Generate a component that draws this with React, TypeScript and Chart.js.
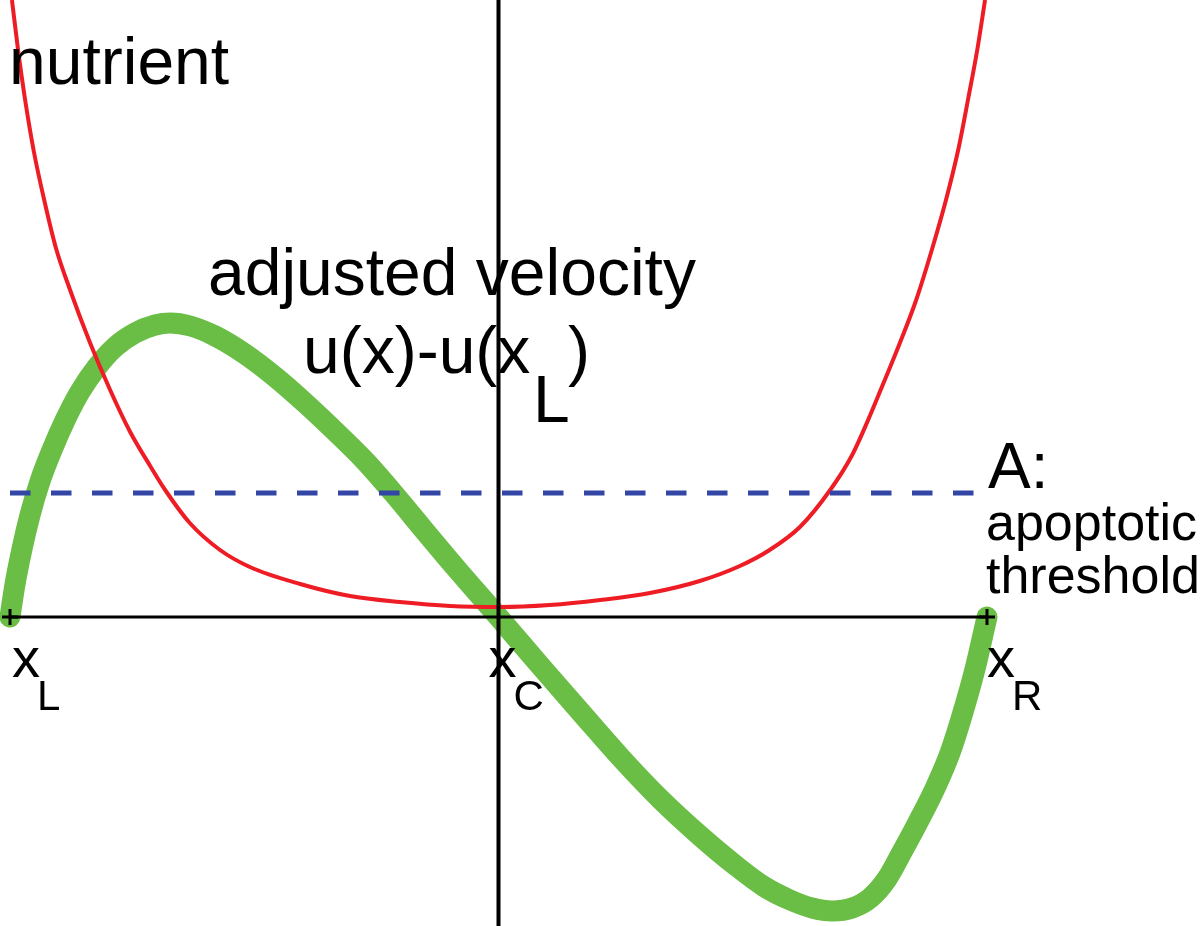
import React, { useEffect, useRef } from 'react';
import { Chart, registerables } from 'chart.js';

Chart.register(...registerables);

// ---- data (x: xL = -1, xC = 0, xR = 1; y: arbitrary units) ----
const xMin = -1;
const xMax = 1;
const yMin = -3.09;
const yMax = 6.17;

const velocityX = [-1.0, -0.99, -0.975, -0.959, -0.939, -0.914, -0.887, -0.857, -0.822, -0.785, -0.744, -0.703, -0.672, -0.631, -0.580, -0.519, -0.457, -0.396, -0.335, -0.273, -0.212, -0.151, -0.089, 0.0, 0.086, 0.168, 0.249, 0.331, 0.413, 0.484, 0.545, 0.597, 0.642, 0.683, 0.724, 0.761, 0.795, 0.826, 0.859, 0.894, 0.925, 0.951, 0.976, 1.0];
const velocityY = [0.0, 0.32, 0.69, 1.02, 1.35, 1.67, 1.97, 2.25, 2.50, 2.70, 2.84, 2.92, 2.94, 2.91, 2.81, 2.63, 2.40, 2.14, 1.86, 1.56, 1.22, 0.86, 0.50, 0.0, -0.49, -0.95, -1.40, -1.82, -2.19, -2.48, -2.70, -2.83, -2.91, -2.94, -2.91, -2.81, -2.62, -2.35, -2.05, -1.71, -1.35, -0.95, -0.51, 0.0];

const nutrientX = [-0.996, -0.984, -0.969, -0.951, -0.930, -0.906, -0.877, -0.836, -0.795, -0.754, -0.713, -0.681, -0.632, -0.570, -0.509, -0.406, -0.304, -0.202, -0.099, 0.003, 0.105, 0.208, 0.310, 0.412, 0.494, 0.555, 0.617, 0.679, 0.724, 0.761, 0.789, 0.820, 0.855, 0.887, 0.916, 0.941, 0.961, 0.980, 0.996];
const nutrientY = [6.17, 5.69, 5.17, 4.65, 4.17, 3.69, 3.27, 2.74, 2.27, 1.85, 1.51, 1.26, 0.94, 0.67, 0.50, 0.33, 0.21, 0.15, 0.11, 0.10, 0.12, 0.17, 0.24, 0.36, 0.51, 0.67, 0.90, 1.27, 1.62, 2.02, 2.35, 2.72, 3.17, 3.67, 4.17, 4.67, 5.17, 5.67, 6.17];

const thresholdLevel = 1.24;
const siteX = [-1, 0, 1];
const siteSubscripts = ['L', 'C', 'R'];

const FONT = '"Liberation Sans", Arial, Helvetica, sans-serif';

const textPlugin = {
  id: 'schematicText',
  afterDatasetsDraw(chart: any) {
    const ctx = chart.ctx as CanvasRenderingContext2D;
    const xs = chart.scales.x;
    const ys = chart.scales.y;
    const y0 = ys.getPixelForValue(0);
    const yThr = ys.getPixelForValue(thresholdLevel);
    ctx.save();
    ctx.fillStyle = '#000000';
    ctx.textBaseline = 'alphabetic';
    ctx.textAlign = 'left';

    ctx.font = `66px ${FONT}`;
    ctx.fillText('nutrient', 9, 84);
    ctx.fillText('adjusted velocity', 208, 295);
    ctx.fillText('u(x)-u(x', 303, 373);
    ctx.fillText('L', 533, 422);
    ctx.fillText(')', 568, 373);

    const rightX = xs.getPixelForValue(xMax);
    ctx.font = `64px ${FONT}`;
    ctx.fillText('A:', rightX + 1, yThr - 5);
    ctx.font = `52px ${FONT}`;
    ctx.fillText('apoptotic', rightX - 1, yThr + 47);
    ctx.fillText('threshold', rightX - 1, yThr + 100);

    siteX.forEach((v, i) => {
      const px = xs.getPixelForValue(v);
      const offs = i === 0 ? 2 : i === 1 ? -10 : 0;
      ctx.font = `56px ${FONT}`;
      ctx.fillText('x', px + offs, y0 + 60);
      ctx.font = `42px ${FONT}`;
      ctx.fillText(siteSubscripts[i], px + offs + 25, y0 + 93);
    });
    ctx.restore();
  },
};

export default function App() {
  const canvasRef = useRef<HTMLCanvasElement | null>(null);

  useEffect(() => {
    if (!canvasRef.current) return;
    const velocity = velocityX.map((x, i) => ({ x, y: velocityY[i] }));
    const nutrient = nutrientX.map((x, i) => ({ x, y: nutrientY[i] }));
    const threshold = [{ x: xMin, y: thresholdLevel }, { x: xMax, y: thresholdLevel }];
    const hAxis = siteX.map((x) => ({ x, y: 0 }));
    const vAxis = [{ x: 0, y: yMin }, { x: 0, y: yMax }];

    const chart = new Chart(canvasRef.current, {
      type: 'line',
      data: {
        datasets: [
          {
            label: 'vertical axis',
            data: vAxis,
            borderColor: '#000000',
            borderWidth: 4,
            pointRadius: 0,
            order: 1,
            clip: false,
          },
          {
            label: 'horizontal axis',
            data: hAxis,
            borderColor: '#000000',
            borderWidth: 3,
            pointStyle: 'cross',
            pointRadius: [8, 0, 8],
            pointBorderColor: '#000000',
            pointBorderWidth: 3,
            order: 2,
            clip: false,
          },
          {
            label: 'A: apoptotic threshold',
            data: threshold,
            borderColor: '#3346a6',
            borderWidth: 5,
            borderDash: [20.5, 20.5],
            pointRadius: 0,
            order: 3,
            clip: false,
          },
          {
            label: 'nutrient',
            data: nutrient,
            borderColor: '#ee1c24',
            borderWidth: 4,
            pointRadius: 0,
            cubicInterpolationMode: 'monotone',
            order: 4,
            clip: false,
          },
          {
            label: 'adjusted velocity',
            data: velocity,
            borderColor: '#6abd45',
            borderWidth: 21,
            borderCapStyle: 'round',
            borderJoinStyle: 'round',
            pointRadius: 0,
            cubicInterpolationMode: 'monotone',
            order: 5,
            clip: false,
          },
        ],
      },
      options: {
        animation: false,
        responsive: false,
        devicePixelRatio: 1,
        layout: { autoPadding: false, padding: { left: 10, right: 213, top: 0, bottom: 0 } },
        plugins: { legend: { display: false }, tooltip: { enabled: false } },
        scales: {
          x: { type: 'linear', min: xMin, max: xMax, display: false },
          y: { type: 'linear', min: yMin, max: yMax, display: false },
        },
      },
      plugins: [textPlugin],
    } as any);
    return () => chart.destroy();
  }, []);

  return (
    <div style={{ position: 'absolute', left: 0, top: 0, width: 1200, height: 926, background: '#ffffff' }}>
      <canvas ref={canvasRef} width={1200} height={926} style={{ display: 'block' }} />
    </div>
  );
}
